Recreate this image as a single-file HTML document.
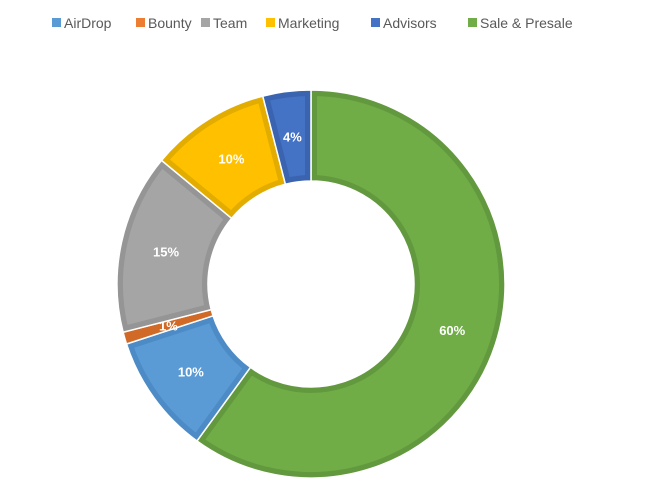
<!DOCTYPE html>
<html><head><meta charset="utf-8"><style>
body{margin:0;background:#fff;width:648px;height:499px;overflow:hidden;font-family:"Liberation Sans",sans-serif}
</style></head><body>
<svg id="chart" width="648" height="499"></svg>
<script>
const categories=["Sale & Presale","AirDrop","Bounty","Team","Marketing","Advisors"];
const values=[60,10,1,15,10,4];
const labels=["60%","10%","1%","15%","10%","4%"];
const fills=["#70AD47","#5B9BD5","#ED7D31","#A5A5A5","#FFC000","#4472C4"];
const borders=["#62993E","#4C8BC6","#D06A26","#959595","#E3AC00","#3A63B0"];
const legendOrder=[1,2,3,4,5,0];
const legendX=[52,136,201,266,371,468];
const NS="http://www.w3.org/2000/svg";
const svg=document.getElementById('chart');
const cx=311,cy=284,R=194,r=103;
function pt(rad,a){return [cx+rad*Math.sin(a),cy-rad*Math.cos(a)];}
const total=values.reduce((a,b)=>a+b,0);
let start=0;
const defs=document.createElementNS(NS,'defs');svg.appendChild(defs);
values.forEach((v,i)=>{
  const end=start+v/total*2*Math.PI;
  const large=(end-start)>Math.PI?1:0;
  const [x1,y1]=pt(R,start),[x2,y2]=pt(R,end),[x3,y3]=pt(r,end),[x4,y4]=pt(r,start);
  const d=`M${x1},${y1} A${R},${R} 0 ${large} 1 ${x2},${y2} L${x3},${y3} A${r},${r} 0 ${large} 0 ${x4},${y4} Z`;
  const cp=document.createElementNS(NS,'clipPath');cp.setAttribute('id','c'+i);
  const cpp=document.createElementNS(NS,'path');cpp.setAttribute('d',d);cp.appendChild(cpp);defs.appendChild(cp);
  const p=document.createElementNS(NS,'path');
  
  
  p.setAttribute('d',d);p.setAttribute('fill',fills[i]);p.setAttribute('stroke',borders[i]);
  p.setAttribute('stroke-width','12');p.setAttribute('clip-path','url(#c'+i+')');
  svg.appendChild(p);
  const o=document.createElementNS(NS,'path');o.setAttribute('d',d);o.setAttribute('fill','none');
  o.setAttribute('stroke','#fff');o.setAttribute('stroke-width','1.5');svg.appendChild(o);
  const mid=(start+end)/2;const [lx,ly]=pt((R+r)/2,mid);
  const t=document.createElementNS(NS,'text');
  
  
  t.setAttribute('x',lx);t.setAttribute('y',ly+5);t.setAttribute('text-anchor','middle');
  t.setAttribute('fill','#fff');t.setAttribute('font-size','13');t.setAttribute('font-weight','bold');
  t.textContent=labels[i];svg.appendChild(t);
  start=end;
});
legendOrder.forEach((ci,k)=>{
  const g=document.createElementNS(NS,'g');
  
  
  const s=document.createElementNS(NS,'rect');s.setAttribute('x',legendX[k]);s.setAttribute('y',18);
  s.setAttribute('width',9);s.setAttribute('height',9);s.setAttribute('fill',fills[ci]);g.appendChild(s);
  const t=document.createElementNS(NS,'text');t.setAttribute('x',legendX[k]+12);t.setAttribute('y',28);
  t.setAttribute('font-size','14');t.setAttribute('fill','#595959');t.textContent=categories[ci];g.appendChild(t);
  svg.appendChild(g);
});
</script>
</body></html>
